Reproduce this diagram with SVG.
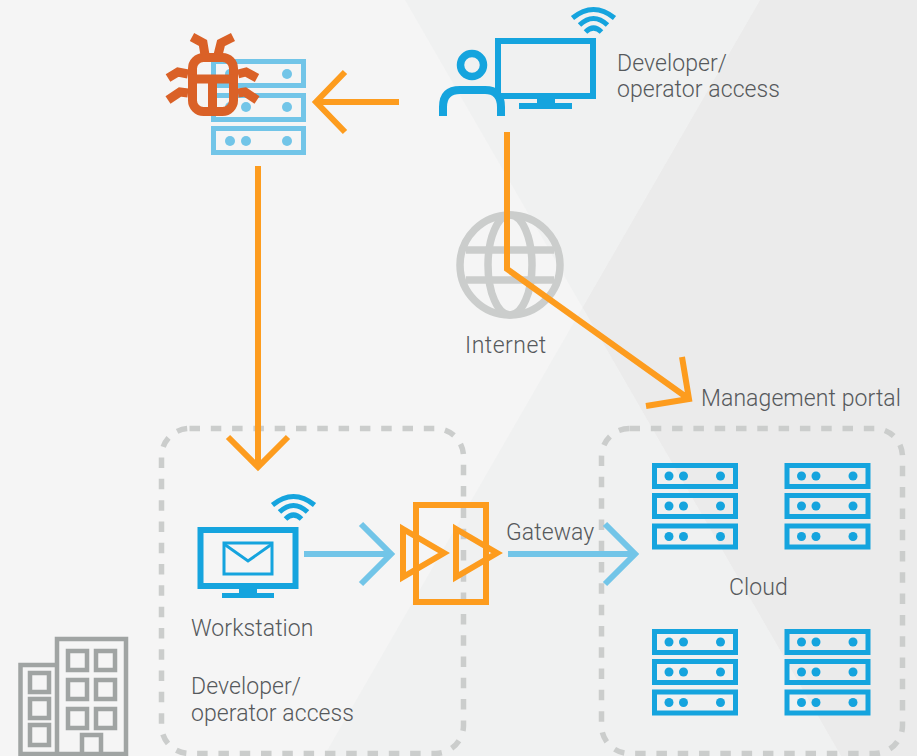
<svg xmlns="http://www.w3.org/2000/svg" width="917" height="756" viewBox="0 0 917 756">
<style>
text{font-family:"Roboto","Liberation Sans",sans-serif;font-weight:300;font-size:23px;fill:#56595c;letter-spacing:.08px}
.o{fill:none;stroke:#fd9c1e;stroke-width:6}
.lb{fill:none;stroke:#72c5e8;stroke-width:6}
.b{fill:none;stroke:#15a4de;stroke-width:6}
.d{fill:none;stroke:#cbcdcc;stroke-width:5.500;stroke-dasharray:10.500 10.800}
.g{fill:none;stroke:#a0a4a3;stroke-width:4.500}
.gl{fill:none;stroke:#cbcdcc;stroke-width:7.500}
</style>
<defs>
<g id="srv"><rect x="2.500" y="2.500" width="81" height="21" class="b" style="stroke-width:5"/><circle cx="17" cy="13" r="4.500" fill="#15a4de"/><circle cx="31.500" cy="13" r="4.500" fill="#15a4de"/><circle cx="68.500" cy="13" r="4.500" fill="#15a4de"/></g>
<g id="stack"><use href="#srv"/><use href="#srv" y="30"/><use href="#srv" y="60.500"/></g>
<g id="wifi" fill="none" stroke="#15a4de" stroke-width="5"><path d="M-21 -12Q0 -29 21 -12"/><path d="M-14 -5Q0 -18 14 -5"/><path d="M-8 2Q0 -6 8 2"/></g>
</defs>
<rect width="917" height="756" fill="#f5f5f5"/>
<path d="M405 0H760L582.500 307.500Z" fill="#f0f1f1"/>
<path d="M582.500 307.500L841 756H324Z" fill="#f0f1f1"/>
<path d="M760 0H917V756H841L582.500 307.500Z" fill="#ebebeb"/>
<g id="internet">
<circle cx="510" cy="265" r="50" class="gl"/>
<ellipse cx="510" cy="265" rx="22" ry="50" class="gl"/>
<path class="gl" d="M466 250H554M466 280H554"/>
<text x="465" y="353" style="letter-spacing:.5px">Internet</text>
</g>
<g id="office">
<rect x="161.500" y="428.500" width="302" height="325" rx="28" class="d"/>
<text x="191" y="636">Workstation</text>
<text x="191" y="694">Developer/</text><text x="191" y="721">operator access</text>
</g>
<g id="cloud">
<rect x="601.500" y="428.500" width="301" height="325" rx="28" class="d"/>
<use href="#stack" x="652" y="463"/><use href="#stack" x="784.500" y="463"/>
<use href="#stack" x="652" y="629"/><use href="#stack" x="784.500" y="629"/>
<text x="729" y="595">Cloud</text>
</g>
<g id="connectors">
<path class="o" d="M399 102H316M345 72L316 102L345 132"/>
<path class="o" d="M258 166V467M228 437L258 467L288 437"/>
<path class="o" d="M507 132V269L689 399M682 357L689 399L646 406"/>
<path class="lb" d="M304 554H391M361 524L391 554L361 584"/>
<path class="lb" d="M508 554H635M605 524L635 554L605 584"/>
</g>
<g id="infected-server">
<g fill="none" stroke="#72c5e8" stroke-width="5">
<rect x="213.500" y="61.500" width="90" height="24"/><rect x="213.500" y="95.500" width="90" height="24"/><rect x="213.500" y="128.500" width="90" height="24"/></g>
<g fill="#72c5e8"><circle cx="230" cy="74" r="5"/><circle cx="287" cy="74" r="5"/><circle cx="230" cy="107" r="5"/><circle cx="246" cy="107" r="5"/><circle cx="287" cy="107" r="5"/><circle cx="230" cy="141" r="5"/><circle cx="246" cy="141" r="5"/><circle cx="287" cy="141" r="5"/></g>
<g fill="none" stroke="#da6127" stroke-width="9">
<rect x="192.500" y="57.500" width="41" height="54" rx="11"/><path d="M192 79H234M212.500 79V111"/>
<path d="M205 55L203 43L192 37M218 55L221 43L233 37M188 74L178 72L168 78M238 74L246 72L257 78M188 93L180 92L168 100M238 93L245 92L257 100"/></g>
</g>
<g id="developer-access">
<circle cx="472" cy="65" r="11.500" class="b" style="stroke-width:7.500"/>
<path class="b" style="stroke-width:8" d="M443 116V107Q443 90 460 90H485Q501 90 501 107V116"/>
<rect x="498" y="41" width="95" height="55" class="b"/>
<path fill="#15a4de" d="M537 99H555V103H572V109H519V103H537Z"/>
<use href="#wifi" x="593.500" y="30"/>
<text x="617" y="71">Developer/</text><text x="617" y="97">operator access</text>
</g>
<text id="management-portal" x="701" y="406">Management portal</text>
<g id="workstation">
<rect x="200.500" y="530" width="95" height="56" class="b"/>
<path fill="#15a4de" d="M239 589H257V593H274V598H222V593H239Z"/>
<rect x="224" y="543" width="48" height="31" fill="none" stroke="#15a4de" stroke-width="3"/>
<path d="M224 544L248 561L272 544" fill="none" stroke="#15a4de" stroke-width="3"/>
<use href="#wifi" x="293.500" y="517"/>
</g>
<g id="gateway">
<rect x="416" y="505" width="70" height="97" fill="#f3f4f4" class="o"/>
<path d="M403 529L444 553L403 577Z" fill="#f3f4f4" class="o"/>
<path d="M456 529L497 553L456 577Z" fill="#f1f2f2" class="o"/>
<text x="506" y="540">Gateway</text>
</g>
<g id="building">
<path class="g" d="M57 756V665H20.500V756M57 756V639H126V756M19 754H128"/>
<path class="g" d="M30 673H49V692H30ZM30 699H49V718H30ZM30 725H49V745H30Z"/>
<path class="g" d="M68 651H87V670H68ZM96 651H115V670H96ZM68 680H87V699H68ZM96 680H115V699H96ZM68 709H87V728H68ZM96 709H115V728H96ZM82 756V735H101V756"/>
</g>
</svg>
